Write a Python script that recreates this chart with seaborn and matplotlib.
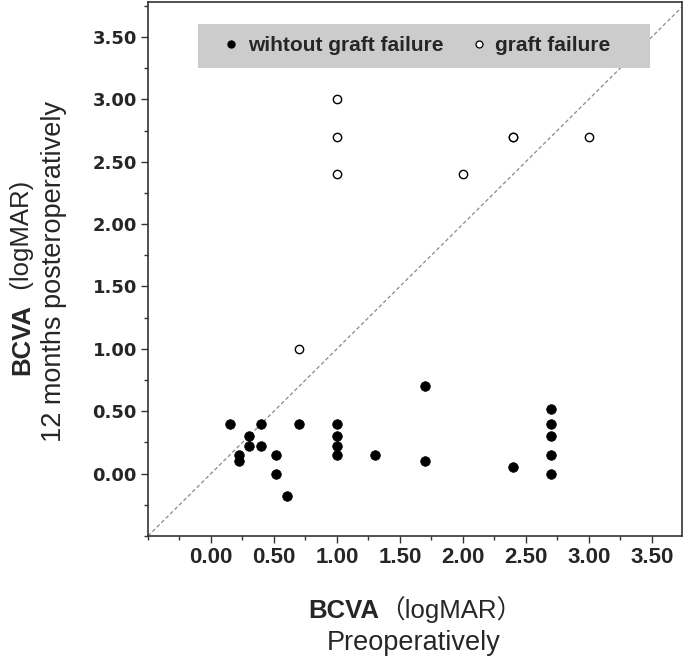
import matplotlib
matplotlib.use('Agg')
import matplotlib.pyplot as plt
import seaborn as sns
from matplotlib.patches import Rectangle
from matplotlib.lines import Line2D
from matplotlib.ticker import MultipleLocator

# BCVA (logMAR) preoperatively vs 12 months postoperatively
pre_ok = [0.15, 0.22, 0.22, 0.30, 0.30, 0.40, 0.40, 0.52, 0.52, 0.60, 0.70,
          1.00, 1.00, 1.00, 1.00, 1.30, 1.70, 1.70, 2.40,
          2.70, 2.70, 2.70, 2.70, 2.70]
post_ok = [0.40, 0.15, 0.10, 0.30, 0.22, 0.40, 0.22, 0.15, 0.00, -0.18, 0.40,
           0.40, 0.30, 0.22, 0.15, 0.15, 0.70, 0.10, 0.05,
           0.52, 0.40, 0.30, 0.15, 0.00]
pre_fail = [0.70, 1.00, 1.00, 1.00, 2.00, 2.40, 2.40, 3.00]
post_fail = [1.00, 3.00, 2.70, 2.40, 2.40, 2.70, 2.70, 2.70]

tick_vals = [0.0, 0.5, 1.0, 1.5, 2.0, 2.5, 3.0, 3.5]
tick_text = ['0.00', '0.50', '1.00', '1.50', '2.00', '2.50', '3.00', '3.50']
legend_labels = ['wihtout graft failure', 'graft failure']

sns.set_style('ticks')
plt.rcParams['font.family'] = ['Liberation Sans', 'Noto Sans CJK SC', 'DejaVu Sans']

W, H = 685, 662
fig = plt.figure(figsize=(W / 100, H / 100), dpi=100)
ax = fig.add_axes([148 / W, (H - 536) / H, 534 / W, 534 / H])

# line of equality
ax.plot([-0.5, 4.0], [-0.5, 4.0], ls=(0, (3, 2)), color='#8a8a8a', lw=0.9, zorder=1)

sns.scatterplot(x=pre_ok, y=post_ok, ax=ax, color='black', edgecolor='black',
                s=48, linewidth=0.5, zorder=3)
sns.scatterplot(x=pre_fail, y=post_fail, ax=ax, color='white', edgecolor='black',
                s=36, linewidth=1.0, zorder=3)

ax.set_xlim(-0.5, 3.74)
ax.set_ylim(-0.5, 3.78)
ax.set_xticks(tick_vals)
ax.set_xticklabels(tick_text, fontsize=16, fontweight='bold', family='Liberation Sans')
ax.set_yticks(tick_vals)
ax.set_yticklabels(tick_text, fontsize=13, fontweight='bold', family='DejaVu Sans')
ax.xaxis.set_minor_locator(MultipleLocator(0.25))
ax.yaxis.set_minor_locator(MultipleLocator(0.25))
ax.tick_params(which='major', direction='out', length=5, width=1, color='#333333', pad=3)
ax.tick_params(which='minor', direction='out', length=3, width=1, color='#333333')
for sp in ax.spines.values():
    sp.set_visible(True)
    sp.set_color('#333333')
    sp.set_linewidth(1.2)

# legend box
ax.add_patch(Rectangle((0.0936, 0.876), 0.846, 0.083, transform=ax.transAxes,
                       facecolor='#cccccc', edgecolor='none', zorder=4))
handles = [Line2D([], [], ls='none', marker='o', markersize=5, color='black',
                  markerfacecolor='black'),
           Line2D([], [], ls='none', marker='o', markersize=5, color='black',
                  markerfacecolor='white', markeredgewidth=0.9)]
leg = ax.legend(handles, legend_labels, loc='center', bbox_to_anchor=(0.505, 0.918),
                ncol=2, frameon=False, handlelength=0.6, handletextpad=0.5,
                columnspacing=1.4, borderaxespad=0,
                prop={'family': 'Liberation Sans', 'weight': 'bold', 'size': 15})
leg.set_zorder(5)


def label_pair(x, y, bold, rest, size, rotation=0):
    kw = dict(size=size, va='baseline', rotation=rotation, rotation_mode='anchor')
    t1 = fig.text(x, y, bold, ha='right', weight='bold', **kw)
    t2 = fig.text(x, y, rest, ha='left', **kw)
    r = fig.canvas.get_renderer()
    b1, b2 = t1.get_window_extent(r), t2.get_window_extent(r)
    if rotation == 0:
        shift = (b1.width - b2.width) / 2 / W
        t1.set_x(x + shift)
        t2.set_x(x + shift)
    else:
        shift = (b1.height - b2.height) / 2 / H
        t1.set_y(y + shift)
        t2.set_y(y + shift)


fig.canvas.draw()
label_pair(415 / W, (H - 618) / H, 'BCVA', '（logMAR）', 18.5)
fig.text(414 / W, (H - 650) / H, 'Preoperatively', size=19.5, ha='center', va='baseline')
label_pair(29 / W, (H - 278) / H, 'BCVA', '  (logMAR)', 18.5, rotation=90)
fig.text(61 / W, (H - 271) / H, '12 months posteroperatively', size=19.5, ha='center',
         va='baseline', rotation=90, rotation_mode='anchor')

fig.savefig('out.png', dpi=100)
